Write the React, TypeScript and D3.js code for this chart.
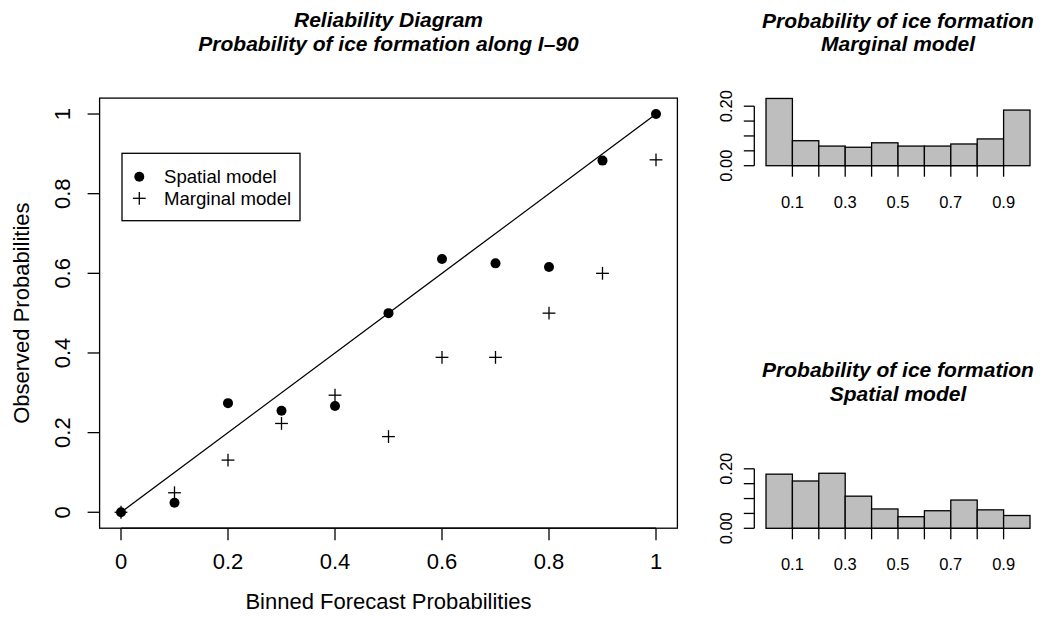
import React from "react";
import * as d3 from "d3";

// ---- data ----
const forecastBins = [0, 0.1, 0.2, 0.3, 0.4, 0.5, 0.6, 0.7, 0.8, 0.9, 1.0];
const spatialObserved = [0, 0.024, 0.274, 0.255, 0.267, 0.5, 0.636, 0.625, 0.616, 0.883, 1.0];
const marginalObserved = [0, 0.049, 0.131, 0.223, 0.294, 0.19, 0.389, 0.389, 0.5, 0.6, 0.885];
const mainTicks = [0, 0.2, 0.4, 0.6, 0.8, 1];
const mainTickLabels = ["0", "0.2", "0.4", "0.6", "0.8", "1"];

const histBreaks = [0, 0.1, 0.2, 0.3, 0.4, 0.5, 0.6, 0.7, 0.8, 0.9, 1.0];
const marginalFreq = [0.226, 0.084, 0.066, 0.062, 0.077, 0.066, 0.066, 0.073, 0.09, 0.187];
const spatialFreq = [0.182, 0.159, 0.185, 0.108, 0.065, 0.039, 0.059, 0.095, 0.062, 0.043];
const histXTicks = [0.1, 0.2, 0.3, 0.4, 0.5, 0.6, 0.7, 0.8, 0.9];
const histXLabels = [0.1, 0.3, 0.5, 0.7, 0.9];
const histYTicks = [0, 0.05, 0.1, 0.15, 0.2];
const histYLabels = [0, 0.2];

const FONT = "'Liberation Sans', Arial, Helvetica, sans-serif";
const SW = 1.3;
const TITLE_SIZE = 21;

function Histogram({ freq, top }: { freq: number[]; top: number }) {
  const x = d3.scaleLinear().domain([0, 1]).range([766, 1030]);
  const y0 = top;
  const y = d3.scaleLinear().domain([0, 0.2]).range([y0, y0 - 59.5]);
  const axX = 754.3;
  return (
    <g>
      {freq.map((f, i) => (
        <rect
          key={i}
          x={x(histBreaks[i])}
          y={y(f)}
          width={x(histBreaks[i + 1]) - x(histBreaks[i])}
          height={y(0) - y(f)}
          fill="#BEBEBE"
          stroke="#000"
          strokeWidth={SW}
        />
      ))}
      {/* x axis */}
      <line x1={x(histXTicks[0])} x2={x(histXTicks[histXTicks.length - 1])} y1={y0} y2={y0} stroke="#000" strokeWidth={SW} />
      {histXTicks.map((t) => (
        <line key={t} x1={x(t)} x2={x(t)} y1={y0} y2={y0 + 11} stroke="#000" strokeWidth={SW} />
      ))}
      {histXLabels.map((t) => (
        <text key={t} x={x(t)} y={y0 + 42} textAnchor="middle" fontSize={16.5} fontFamily={FONT}>
          {d3.format(".1f")(t)}
        </text>
      ))}
      {/* y axis */}
      <line x1={axX} x2={axX} y1={y(0)} y2={y(0.2)} stroke="#000" strokeWidth={SW} />
      {histYTicks.map((t) => (
        <line key={t} x1={axX} x2={axX - 10.5} y1={y(t)} y2={y(t)} stroke="#000" strokeWidth={SW} />
      ))}
      {histYLabels.map((t) => (
        <text
          key={t}
          transform={`translate(${axX - 22.5},${y(t)}) rotate(-90)`}
          textAnchor="middle"
          fontSize={16.5}
          fontFamily={FONT}
        >
          {d3.format(".2f")(t)}
        </text>
      ))}
    </g>
  );
}

function Title({ x, y1, line1, line2 }: { x: number; y1: number; line1: string; line2: string }) {
  return (
    <g fontSize={TITLE_SIZE} fontWeight="bold" fontStyle="italic" textAnchor="middle">
      <text x={x} y={y1}>{line1}</text>
      <text x={x} y={y1 + 23.5}>{line2}</text>
    </g>
  );
}

export default function App() {
  const x = d3.scaleLinear().domain([-0.04, 1.04]).range([99.6, 677.4]);
  const y = d3.scaleLinear().domain([-0.04, 1.04]).range([528.2, 98.1]);
  const cx = (x.range()[0] + x.range()[1]) / 2;
  const cy = (y.range()[0] + y.range()[1]) / 2;
  const diag = d3.line<number>()
    .x((d) => x(d))
    .y((d) => y(d));
  const plus = (px: number, py: number, k: string) => (
    <g key={k}>
      <line x1={px - 6.4} x2={px + 6.4} y1={py} y2={py} stroke="#000" strokeWidth={SW} />
      <line x1={px} x2={px} y1={py - 6.4} y2={py + 6.4} stroke="#000" strokeWidth={SW} />
    </g>
  );
  return (
    <svg
      width={1047}
      height={620}
      style={{ position: "absolute", left: 0, top: 0, background: "#fff" }}
      fontFamily={FONT}
    >
      <rect x={0} y={0} width={1047} height={620} fill="#fff" />
      <Title x={cx} y1={27} line1="Reliability Diagram" line2="Probability of ice formation along I–90" />
      {/* frame */}
      <rect
        x={x.range()[0]}
        y={y.range()[1]}
        width={x.range()[1] - x.range()[0]}
        height={y.range()[0] - y.range()[1]}
        fill="none"
        stroke="#000"
        strokeWidth={SW}
      />
      {/* x axis */}
      <line x1={x(0)} x2={x(1)} y1={y.range()[0]} y2={y.range()[0]} stroke="#000" strokeWidth={SW} />
      {mainTicks.map((t, i) => (
        <g key={"xt" + i}>
          <line x1={x(t)} x2={x(t)} y1={y.range()[0]} y2={y.range()[0] + 12} stroke="#000" strokeWidth={SW} />
          <text x={x(t)} y={y.range()[0] + 40.5} textAnchor="middle" fontSize={22}>
            {mainTickLabels[i]}
          </text>
        </g>
      ))}
      {/* y axis */}
      {mainTicks.map((t, i) => (
        <g key={"yt" + i}>
          <line x1={x.range()[0]} x2={x.range()[0] - 12} y1={y(t)} y2={y(t)} stroke="#000" strokeWidth={SW} />
          <text transform={`translate(${x.range()[0] - 29.5},${y(t)}) rotate(-90)`} textAnchor="middle" fontSize={22}>
            {mainTickLabels[i]}
          </text>
        </g>
      ))}
      <text x={cx} y={609} textAnchor="middle" fontSize={22}>
        Binned Forecast Probabilities
      </text>
      <text transform={`translate(29,${cy}) rotate(-90)`} textAnchor="middle" fontSize={22}>
        Observed Probabilities
      </text>
      {/* diagonal */}
      <path d={diag([0, 1]) || ""} fill="none" stroke="#000" strokeWidth={SW} />
      {/* points */}
      {forecastBins.map((b, i) => (
        <circle key={"s" + i} cx={x(b)} cy={y(spatialObserved[i])} r={5} fill="#000" />
      ))}
      {forecastBins.map((b, i) => plus(x(b), y(marginalObserved[i]), "m" + i))}
      {/* legend */}
      <rect x={122} y={153.3} width={178} height={67.4} fill="#fff" stroke="#000" strokeWidth={SW} />
      <circle cx={139.3} cy={176.7} r={5} fill="#000" />
      {plus(139.3, 198.3, "lg")}
      <text x={164} y={176.7 + 6.7} fontSize={18.6}>
        Spatial model
      </text>
      <text x={164} y={198.3 + 6.7} fontSize={18.6}>
        Marginal model
      </text>

      {/* histograms */}
      <Title x={898} y1={27.5} line1="Probability of ice formation" line2="Marginal model" />
      <Histogram freq={marginalFreq} top={165.7} />

      <Title x={898} y1={377} line1="Probability of ice formation" line2="Spatial model" />
      <Histogram freq={spatialFreq} top={528.3} />
    </svg>
  );
}
